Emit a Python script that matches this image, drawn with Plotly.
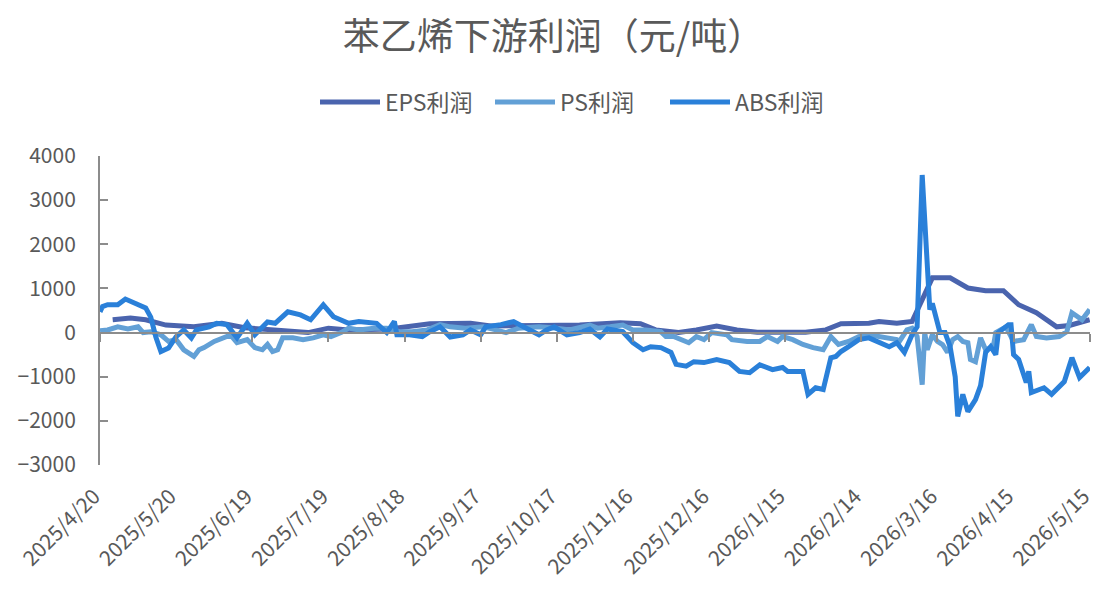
import plotly.graph_objects as go

title_text = "苯乙烯下游利润（元/吨）"

eps_dates = ["2025-04-25", "2025-05-02", "2025-05-08", "2025-05-16", "2025-05-27", "2025-06-07",
             "2025-06-16", "2025-06-28", "2025-07-11", "2025-07-19", "2025-07-27", "2025-08-12",
             "2025-08-28", "2025-09-13", "2025-09-21", "2025-10-10", "2025-10-26", "2025-11-11",
             "2025-11-19", "2025-11-25", "2025-12-04", "2025-12-11", "2025-12-19", "2025-12-27",
             "2026-01-04", "2026-01-23", "2026-01-31", "2026-02-06", "2026-02-17", "2026-02-21",
             "2026-02-28", "2026-03-06", "2026-03-14", "2026-03-21", "2026-03-28", "2026-04-04",
             "2026-04-11", "2026-04-17", "2026-04-24", "2026-05-02", "2026-05-07", "2026-05-15"]
eps_values = [290, 330, 290, 170, 130, 210,
              110, 50, 0, 100, 60, 80,
              200, 210, 150, 160, 170, 220,
              200, 60, 0, 60, 150, 60,
              10, 10, 60, 200, 210, 250,
              210, 250, 1240, 1240, 1010, 950,
              950, 630, 450, 130, 160, 290]

ps_dates = ["2025-04-20", "2025-04-23", "2025-04-27", "2025-05-01", "2025-05-05", "2025-05-07",
            "2025-05-10", "2025-05-14", "2025-05-17", "2025-05-20", "2025-05-23", "2025-05-27",
            "2025-05-29", "2025-05-31", "2025-06-04", "2025-06-09", "2025-06-11", "2025-06-13",
            "2025-06-17", "2025-06-20", "2025-06-23", "2025-06-25", "2025-06-27", "2025-06-29",
            "2025-07-01", "2025-07-05", "2025-07-09", "2025-07-13", "2025-07-17", "2025-07-20",
            "2025-07-24", "2025-07-27", "2025-07-31", "2025-08-06", "2025-08-11", "2025-08-16",
            "2025-08-21", "2025-08-27", "2025-09-01", "2025-09-05", "2025-09-11", "2025-09-18",
            "2025-09-23", "2025-09-27", "2025-10-02", "2025-10-10", "2025-10-17", "2025-10-22",
            "2025-10-30", "2025-11-02", "2025-11-07", "2025-11-12", "2025-11-16", "2025-11-21",
            "2025-11-27", "2025-11-29", "2025-12-02", "2025-12-08", "2025-12-11", "2025-12-14",
            "2025-12-17", "2025-12-23", "2025-12-25", "2025-12-31", "2026-01-05", "2026-01-08",
            "2026-01-12", "2026-01-14", "2026-01-18", "2026-01-22", "2026-01-26", "2026-01-30",
            "2026-02-02", "2026-02-05", "2026-02-09", "2026-02-13", "2026-02-17", "2026-02-24",
            "2026-02-28", "2026-03-01", "2026-03-04", "2026-03-06", "2026-03-08", "2026-03-10",
            "2026-03-11", "2026-03-12", "2026-03-14", "2026-03-16", "2026-03-18", "2026-03-20",
            "2026-03-22", "2026-03-24", "2026-03-26", "2026-03-28", "2026-03-29", "2026-03-31",
            "2026-04-02", "2026-04-04", "2026-04-07", "2026-04-08", "2026-04-12", "2026-04-15",
            "2026-04-19", "2026-04-22", "2026-04-24", "2026-04-28", "2026-05-03", "2026-05-06",
            "2026-05-08", "2026-05-12", "2026-05-15"]
ps_values = [40, 60, 130, 80, 130, 0,
             20, -50, -200, -160, -390, -540,
             -390, -340, -200, -90, -90, -230,
             -160, -340, -390, -270, -430, -390,
             -120, -120, -160, -120, -50, -90,
             0, 100, 60, 100, 100, 20,
             20, 60, 180, 130, 100, 130,
             60, 0, 100, 130, 100, 60,
             170, 100, 130, 170, 60, 60,
             20, -90, -90, -230, -90, -160,
             0, -50, -160, -200, -200, -90,
             -200, -90, -160, -270, -340, -390,
             -90, -270, -200, -90, -50, -120,
             -160, -200, 60, 100, -90, -1180,
             0, -390, -50, -200, -270, -450,
             -160, -90, -200, -230, -610, -660,
             -120, -390, -320, 0, 130, -200,
             -160, 180, -90, -120, -90, 20,
             450, 290, 520]

abs_dates = ["2025-04-20", "2025-04-21", "2025-04-23", "2025-04-27", "2025-04-30", "2025-05-04",
             "2025-05-08", "2025-05-10", "2025-05-12", "2025-05-14", "2025-05-17", "2025-05-20",
             "2025-05-23", "2025-05-26", "2025-05-28", "2025-06-02", "2025-06-05", "2025-06-09",
             "2025-06-13", "2025-06-17", "2025-06-20", "2025-06-25", "2025-06-28", "2025-07-03",
             "2025-07-08", "2025-07-12", "2025-07-17", "2025-07-21", "2025-07-24", "2025-07-27",
             "2025-07-31", "2025-08-07", "2025-08-11", "2025-08-14", "2025-08-15", "2025-08-20",
             "2025-08-25", "2025-08-28", "2025-09-01", "2025-09-05", "2025-09-10", "2025-09-13",
             "2025-09-17", "2025-09-19", "2025-09-25", "2025-09-30", "2025-10-05", "2025-10-10",
             "2025-10-13", "2025-10-16", "2025-10-21", "2025-10-26", "2025-10-30", "2025-11-03",
             "2025-11-06", "2025-11-12", "2025-11-16", "2025-11-20", "2025-11-23", "2025-11-27",
             "2025-12-01", "2025-12-03", "2025-12-07", "2025-12-10", "2025-12-14", "2025-12-19",
             "2025-12-24", "2025-12-28", "2026-01-01", "2026-01-05", "2026-01-10", "2026-01-14",
             "2026-01-16", "2026-01-22", "2026-01-24", "2026-01-27", "2026-01-30", "2026-02-02",
             "2026-02-04", "2026-02-06", "2026-02-09", "2026-02-13", "2026-02-17", "2026-02-25",
             "2026-02-28", "2026-03-03", "2026-03-06", "2026-03-08", "2026-03-10", "2026-03-13",
             "2026-03-14", "2026-03-17", "2026-03-19", "2026-03-21", "2026-03-23", "2026-03-24",
             "2026-03-26", "2026-03-28", "2026-03-31", "2026-04-02", "2026-04-04", "2026-04-06",
             "2026-04-08", "2026-04-09", "2026-04-13", "2026-04-14", "2026-04-15", "2026-04-17",
             "2026-04-20", "2026-04-21", "2026-04-22", "2026-04-27", "2026-04-30", "2026-05-05",
             "2026-05-08", "2026-05-11", "2026-05-15"]
abs_values = [470, 590, 630, 630, 760, 670,
              560, 350, -100, -430, -350, -90,
              60, -120, 60, 130, 210, 180,
              -120, 210, -50, 240, 210, 470,
              400, 290, 630, 360, 290, 210,
              250, 210, 0, 250, -50, -50,
              -90, 20, 130, -100, -50, 60,
              -50, 130, 180, 250, 100, -50,
              60, 130, -50, 0, 80, -100,
              80, 20, -230, -390, -320, -340,
              -450, -720, -760, -660, -680, -610,
              -680, -880, -910, -730, -840, -790,
              -880, -880, -1400, -1250, -1290, -570,
              -540, -430, -320, -160, -120, -320,
              -230, -450, -50, 130, 3570, 520,
              660, 0, 0, -320, -1000, -1900,
              -1400, -1790, -1520, -1200, -450, -320,
              -500, 0, 180, 180, -500, -610,
              -1130, -880, -1360, -1250, -1400, -1110,
              -570, -1020, -790]

tick_dates = ["2025-04-20", "2025-05-20", "2025-06-19", "2025-07-19", "2025-08-18", "2025-09-17",
              "2025-10-17", "2025-11-16", "2025-12-16", "2026-01-15", "2026-02-14", "2026-03-16",
              "2026-04-15", "2026-05-15"]
tick_labels = ["2025/4/20", "2025/5/20", "2025/6/19", "2025/7/19", "2025/8/18", "2025/9/17",
               "2025/10/17", "2025/11/16", "2025/12/16", "2026/1/15", "2026/2/14", "2026/3/16",
               "2026/4/15", "2026/5/15"]
y_ticks = [4000, 3000, 2000, 1000, 0, -1000, -2000, -3000]

FONT = "Noto Sans CJK SC"
GREY = "#595959"
AXIS = "#8c8c8c"

fig = go.Figure()
fig.add_trace(go.Scatter(x=eps_dates, y=eps_values, mode="lines", name="EPS利润",
                         line=dict(color="#4a64ae", width=5)))
fig.add_trace(go.Scatter(x=ps_dates, y=ps_values, mode="lines", name="PS利润",
                         line=dict(color="#62a0d6", width=5)))
fig.add_trace(go.Scatter(x=abs_dates, y=abs_values, mode="lines", name="ABS利润",
                         line=dict(color="#2a80d9", width=5)))
# axis drawn at the zero level (tick marks only)
fig.add_trace(go.Scatter(x=[tick_dates[0]], y=[0], xaxis="x2", mode="lines",
                         showlegend=False, hoverinfo="skip", line=dict(width=0)))

# the page body adds an 8px offset, so the figure is 8px smaller on each side
W, H = 1091, 602
xr = ["2025-04-20", "2026-05-15 03:00"]
fig.update_layout(
    width=W, height=H,
    margin=dict(l=92, r=9, t=148, b=145, autoexpand=False),
    paper_bgcolor="white", plot_bgcolor="white",
    font=dict(family=FONT, color=GREY),
    title=dict(text=title_text, x=0.5, xanchor="center", yref="container", y=1 - 29 / H,
               yanchor="middle", font=dict(size=37, color=GREY, family=FONT)),
    legend=dict(orientation="h", xref="container", x=(315 - 8) / W, xanchor="left",
                yref="container", y=1 - 94 / H,
                yanchor="middle", font=dict(size=23, color=GREY), itemwidth=60,
                traceorder="normal", entrywidth=100),
    xaxis=dict(type="date", range=xr, tickvals=tick_dates, ticktext=tick_labels,
               tickangle=-45, tickfont=dict(size=21, color=GREY), showgrid=False,
               showline=False, ticks="", zeroline=False, automargin=False,
               ticklabelstandoff=14, ticklabelshift=-6, ticklabeloverflow="allow"),
    xaxis2=dict(type="date", range=xr, overlaying="x", anchor="free", position=3/7,
                tickvals=tick_dates, showticklabels=False, showline=True, linecolor=AXIS,
                linewidth=2, ticks="outside", ticklen=8, tickcolor=AXIS, tickwidth=2,
                showgrid=False, zeroline=False, side="bottom", automargin=False),
    yaxis=dict(range=[-3000, 4000], tickvals=y_ticks, showgrid=False, zeroline=False,
               showline=True, linecolor=AXIS, linewidth=2, ticks="inside", ticklen=8,
               tickcolor=AXIS, tickwidth=2, tickfont=dict(size=21, color=GREY),
               automargin=False, ticklabelstandoff=18),
    showlegend=True,
)

fig.write_html("out.html")
